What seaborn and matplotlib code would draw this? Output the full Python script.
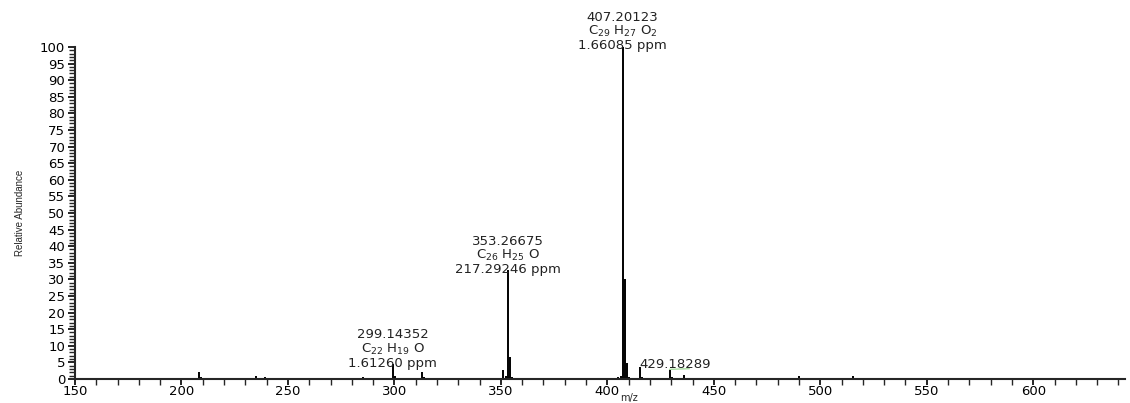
import numpy as np
import pandas as pd
import seaborn as sns
import matplotlib.pyplot as plt
from matplotlib.ticker import MultipleLocator

# peak list (m/z, relative abundance %)
mz = [160.1, 170.1, 178.0, 208.1, 209.1, 213.0, 217.1, 231.1, 235.1, 239.1,
      256.1, 262.1, 264.1, 267.1, 285.1, 287.1, 291.1, 294.1, 296.1,
      299.14, 300.15, 301.1, 313.1, 314.1, 315.1, 325.1, 330.1, 341.2,
      351.2, 352.2, 353.27, 354.27, 355.3, 371.2, 385.2, 390.2,
      405.2, 406.2, 407.20, 408.20, 409.21, 410.2, 415.1, 416.1,
      429.18, 430.2, 436.2, 438.2, 440.2, 442.2, 445.2,
      490.2, 491.2, 515.2, 516.2, 532.2, 571.2, 590.2]
abundance = [0.3, 0.3, 0.3, 2.0, 0.5, 0.3, 0.3, 0.4, 0.8, 0.5,
             0.3, 0.3, 0.3, 0.3, 0.6, 0.3, 0.3, 0.3, 0.3,
             4.5, 1.0, 0.3, 2.0, 0.7, 0.3, 0.3, 0.3, 0.3,
             2.7, 0.8, 32.8, 6.6, 0.5, 0.3, 0.4, 0.3,
             0.6, 0.8, 100.0, 30.0, 4.8, 0.5, 3.6, 0.6,
             2.7, 0.7, 1.2, 0.3, 0.3, 0.3, 0.3,
             0.8, 0.3, 0.9, 0.3, 0.3, 0.4, 0.2]

label_mz = [299.14352, 353.26675, 407.20123]
label_formula = ["C$_{22}$ H$_{19}$ O", "C$_{26}$ H$_{25}$ O", "C$_{29}$ H$_{27}$ O$_2$"]
label_ppm = ["1.61260 ppm", "217.29246 ppm", "1.66085 ppm"]
label_height = [4.5, 32.8, 100.0]

df = pd.DataFrame({"mz": mz, "abundance": abundance})

sns.set_style("ticks")
plt.rcParams["font.family"] = ["DejaVu Sans"]
plt.rcParams["mathtext.fontset"] = "custom"
plt.rcParams["mathtext.rm"] = "DejaVu Sans"
plt.rcParams["mathtext.it"] = "DejaVu Sans"

fig = plt.figure(figsize=(11.3, 4.03), dpi=100)
ax = fig.add_axes([0.0664, 0.0596, 0.929, 0.824])

ax.vlines(df["mz"], 0, df["abundance"], color="black", lw=1.4)

for m, f, p, h in zip(label_mz, label_formula, label_ppm, label_height):
    ax.annotate(f"{m:.5f}\n{f}\n{p}", xy=(m, h), xytext=(0, -4),
                textcoords="offset points", ha="center", va="bottom",
                fontsize=9.5, linespacing=1.0, color="#222222")

# small unassigned label at 429
ax.plot([429.2, 438.5], [2.9, 3.1], color="#a8dca0", lw=1)
ax.text(432.0, 2.3, "429.18289", ha="center", va="bottom", fontsize=9.5,
        color="#222222")

ax.set_xlim(150, 643)
ax.set_ylim(0, 100)
ax.xaxis.set_major_locator(MultipleLocator(50))
ax.xaxis.set_minor_locator(MultipleLocator(10))
ax.yaxis.set_major_locator(MultipleLocator(5))
ax.yaxis.set_minor_locator(MultipleLocator(1))
ax.tick_params(axis="both", which="major", labelsize=9.5, length=5, width=1.2,
               pad=2, colors="black")
ax.tick_params(axis="both", which="minor", length=4, width=1)
ax.tick_params(axis="x", which="both", length=4, pad=0)

sns.despine(ax=ax)
for s in ["left", "bottom"]:
    ax.spines[s].set_linewidth(1.5)

# x label squeezed at the bottom edge, just right of the "400" tick label
fig.text(0.557, 0.0, "m/z", ha="center", va="bottom", fontsize=7)
ax.set_ylabel("Relative Abundance", fontsize=7, family="Liberation Sans")
ax.yaxis.set_label_coords(-0.048, 0.5)

fig.savefig("out.png", dpi=100)
